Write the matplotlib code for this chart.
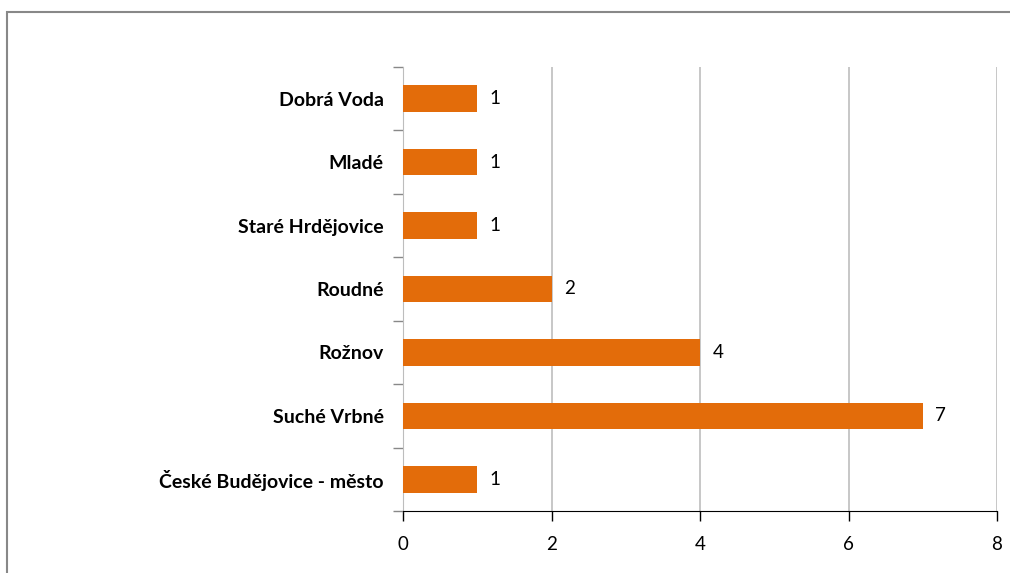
import matplotlib
matplotlib.use('Agg')
import matplotlib.pyplot as plt
from matplotlib.patches import Rectangle

plt.rcParams['font.family'] = ['Lato', 'DejaVu Sans']

places = ['České Budějovice - město', 'Suché Vrbné', 'Rožnov', 'Roudné',
          'Staré Hrdějovice', 'Mladé', 'Dobrá Voda']
counts = [1, 7, 4, 2, 1, 1, 1]
x_ticks = [0, 2, 4, 6, 8]

orange = '#E36C0A'

fig = plt.figure(figsize=(10.10, 5.73), dpi=100)
ax = fig.add_axes([403 / 1010, 1 - 511 / 573, 594 / 1010, 444 / 573])

ypos = list(range(len(places)))
ax.barh(ypos, counts, height=0.42, color=orange, zorder=3)
for y, v in zip(ypos, counts):
    ax.text(v + 0.17, y, str(v), va='center', ha='left', fontsize=13.5, color='#000000')

ax.set_xlim(0, 8)
ax.set_ylim(-0.5, len(places) - 0.5)
ax.set_xticks(x_ticks)
ax.set_xticklabels([str(t) for t in x_ticks], fontsize=13.5)
ax.set_yticks(ypos)
ax.set_yticklabels(places, fontsize=14, fontweight='bold')
ax.tick_params(axis='y', length=0, pad=14)
ax.tick_params(axis='x', length=7, width=1, color='#000000', pad=11)

# category separators on left axis
ax.set_yticks([i - 0.5 for i in range(len(places) + 1)], minor=True)
ax.tick_params(axis='y', which='minor', length=7, width=1, color='#888888')

ax.grid(axis='x', color='#bdbdbd', linewidth=1.2, zorder=0)
for s in ['top', 'right']:
    ax.spines[s].set_visible(False)
ax.spines['left'].set_color('#bdbdbd')
ax.spines['bottom'].set_color('#000000')
ax.spines['bottom'].set_zorder(4)

# outer chart border
fig.patches.append(Rectangle((7 / 1010, -0.05), 1.1, 1 - 12 / 573 + 0.05,
                             transform=fig.transFigure, fill=False,
                             edgecolor='#888888', linewidth=1.5))

fig.savefig('out.png', dpi=100)
